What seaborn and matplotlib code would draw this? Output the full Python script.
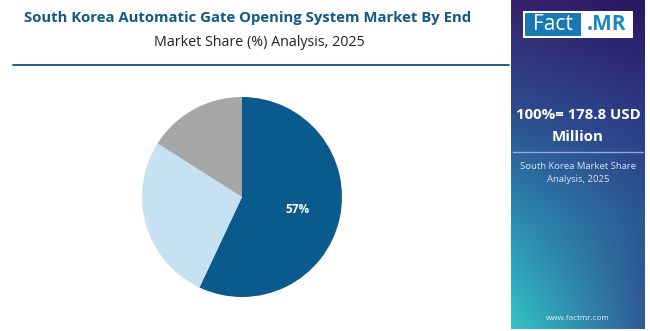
import numpy as np
import pandas as pd
import matplotlib
matplotlib.use("Agg")
import matplotlib.pyplot as plt
from matplotlib.patches import Rectangle
from matplotlib.colors import to_rgb
import seaborn as sns

# ---- data ----
segments = ["Segment 1", "Segment 2", "Segment 3"]
shares = [57, 27, 16]
colors = ["#0b5a8e", "#c6e1f2", "#a6a6a6"]

title = "South Korea Automatic Gate Opening System Market By End"
subtitle = "Market Share (%) Analysis, 2025"
total_line1 = "100%= 178.8 USD"
total_line2 = "Million"
side_note = "South Korea Market Share\nAnalysis, 2025"
website = "www.factmr.com"

df = pd.DataFrame({"segment": segments, "share": shares})

sns.set_theme(style="white")
plt.rcParams["font.family"] = ["Open Sans", "DejaVu Sans"]

W, H = 650, 331
fig = plt.figure(figsize=(W / 100, H / 100), dpi=100)
fig.patch.set_facecolor("white")

# overlay axes in pixel coords
bg = fig.add_axes([0, 0, 1, 1])
bg.set_xlim(0, W)
bg.set_ylim(H, 0)
bg.axis("off")

# right gradient panel
px0, px1, py0, py1 = 511, 645, 0, 329
stops = [0.0, 0.35, 0.65, 1.0]
left_cols = np.array([to_rgb(c) for c in ["#36226f", "#2c4f90", "#2b8ab2", "#33c5c7"]])
right_cols = np.array([to_rgb(c) for c in ["#2a1660", "#2d3a85", "#2d5590", "#2f5b96"]])
ny, nx = 200, 100
ys = np.linspace(0, 1, ny)
xs = np.linspace(0, 1, nx)
left = np.stack([np.interp(ys, stops, left_cols[:, k]) for k in range(3)], axis=-1)
right = np.stack([np.interp(ys, stops, right_cols[:, k]) for k in range(3)], axis=-1)
img = left[:, None, :] * (1 - xs[None, :, None]) + right[:, None, :] * xs[None, :, None]
bg.imshow(img, extent=(px0, px1, py1, py0), aspect="auto", zorder=1, interpolation="bilinear")
bg.set_xlim(0, W)
bg.set_ylim(H, 0)

# logo
bg.add_patch(Rectangle((523, 11), 110, 27, facecolor="white", edgecolor="none", zorder=2))
bg.add_patch(Rectangle((525, 13), 56, 23, facecolor="#1a79b5", edgecolor="none", zorder=3))
bg.text(553, 25, "Fact", color="white", fontsize=15, ha="center", va="center", zorder=4)
bg.text(607, 25, ".MR", color="#1a86c2", fontsize=15, fontweight="bold", ha="center", va="center", zorder=4)

# panel texts
bg.text(578, 115, total_line1, color="white", fontsize=10.8, fontweight="bold", ha="center", va="center", zorder=4)
bg.text(578, 137, total_line2, color="white", fontsize=10.8, fontweight="bold", ha="center", va="center", zorder=4)
bg.plot([513, 643], [152, 152], color="#9aa6d8", lw=1, zorder=4)
bg.text(578, 173, side_note, color="#dde0f2", fontsize=6.8, ha="center", va="center", linespacing=1.45, zorder=4)
bg.text(578, 318, website, color="#e6ecf5", fontsize=5.8, ha="center", va="center", zorder=4)

# titles
bg.text(248, 18, title, color="#135887", fontsize=10.7, fontweight="bold", ha="center", va="center")
bg.text(259, 42, subtitle, color="#222222", fontsize=10.3, ha="center", va="center")
bg.plot([13, 509], [65, 65], color="#1d5f86", lw=1.4)

# pie
cx, cy, r = 242, 197, 100
pie_ax = fig.add_axes([(cx - r) / W, (H - cy - r) / H, 2 * r / W, 2 * r / H])
wedges, texts, autotexts = pie_ax.pie(
    df["share"], colors=colors, startangle=90, counterclock=False,
    autopct=lambda p: f"{p:.0f}%" if p > 50 else "", pctdistance=0.57,
    wedgeprops=dict(linewidth=0), textprops=dict(color="white", fontsize=8.5, fontweight="bold"),
)
pie_ax.set_xlim(-1, 1)
pie_ax.set_ylim(-1, 1)
pie_ax.set_aspect("equal")
pie_ax.axis("off")

fig.savefig("out.png", dpi=100, facecolor="white")
